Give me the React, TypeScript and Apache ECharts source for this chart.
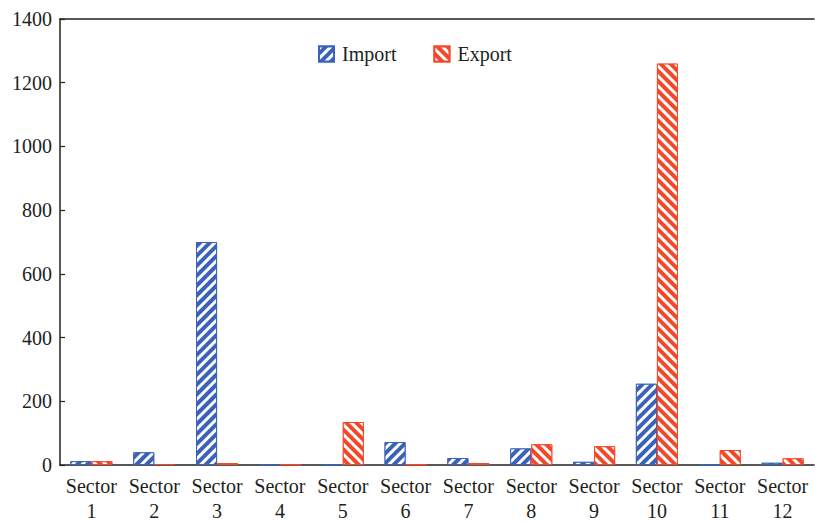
import React, { useEffect, useRef } from "react";
import * as echarts from "echarts";

// Sector labels on the x axis (two lines each)
const categories = [
  "Sector\n1", "Sector\n2", "Sector\n3", "Sector\n4", "Sector\n5", "Sector\n6",
  "Sector\n7", "Sector\n8", "Sector\n9", "Sector\n10", "Sector\n11", "Sector\n12",
];

const importValues = [12, 40, 700, 2, 2, 72, 22, 52, 10, 255, 2, 7];
const exportValues = [12, 3, 6, 2, 135, 2, 6, 65, 59, 1260, 47, 21];

const yTicks = { min: 0, max: 1400, interval: 200 };

const BLUE = "#3b62b9";
const RED = "#f2492a";
const FONT = "Liberation Serif";
const TEXT = "#231f20";

// White diagonal hatching laid over each bar
const stripe = (rotation: number) => ({
  symbol: "rect",
  symbolSize: 1,
  color: "#ffffff",
  dashArrayX: [[1, 0]],
  dashArrayY: [2.5, 3.5],
  rotation,
});

export default function App() {
  const ref = useRef<HTMLDivElement>(null);

  useEffect(() => {
    if (!ref.current) return;
    const chart = echarts.init(ref.current, undefined, { renderer: "svg" });
    chart.setOption({
      animation: false,
      backgroundColor: "#ffffff",
      grid: { left: 60, right: 1, top: 19, bottom: 55, containLabel: false },
      legend: {
        top: 39,
        left: 313,
        itemWidth: 15,
        itemHeight: 15,
        itemGap: 37,
        icon: "rect",
        textStyle: { fontFamily: FONT, fontSize: 20, color: TEXT, padding: [0, 0, 0, 3] },
        data: ["Import", "Export"],
      },
      xAxis: [
        {
          type: "category",
          data: categories,
          axisLine: { lineStyle: { color: "#222", width: 1.5 } },
          axisTick: { show: false },
          axisLabel: {
            fontFamily: FONT,
            fontSize: 20,
            color: TEXT,
            lineHeight: 25,
            margin: 8,
            interval: 0,
          },
        },
        {
          type: "category",
          position: "top",
          data: categories,
          axisLine: { lineStyle: { color: "#222", width: 1.5 } },
          axisTick: { show: false },
          axisLabel: { show: false },
        },
      ],
      yAxis: {
        type: "value",
        min: yTicks.min,
        max: yTicks.max,
        interval: yTicks.interval,
        splitLine: { show: false },
        axisLine: { show: true, lineStyle: { color: "#222", width: 1.5 } },
        axisTick: { show: true, inside: true, length: 5, lineStyle: { color: "#222", width: 1.2 } },
        axisLabel: {
          fontFamily: FONT,
          fontSize: 20,
          color: TEXT,
          margin: 8,
          formatter: (v: number) => String(v),
        },
      },
      series: [
        {
          name: "Import",
          type: "bar",
          data: importValues,
          barGap: "0%",
          barCategoryGap: "33%",
          itemStyle: {
            color: BLUE,
            borderColor: BLUE,
            borderWidth: 1,
            decal: stripe(-Math.PI / 4),
          },
        },
        {
          name: "Export",
          type: "bar",
          data: exportValues,
          barGap: "0%",
          barCategoryGap: "33%",
          itemStyle: {
            color: RED,
            borderColor: RED,
            borderWidth: 1,
            decal: stripe(Math.PI / 4),
          },
        },
      ],
    });
    return () => chart.dispose();
  }, []);

  return (
    <div
      ref={ref}
      style={{ position: "fixed", left: 0, top: 0, width: 815, height: 523 }}
    />
  );
}
